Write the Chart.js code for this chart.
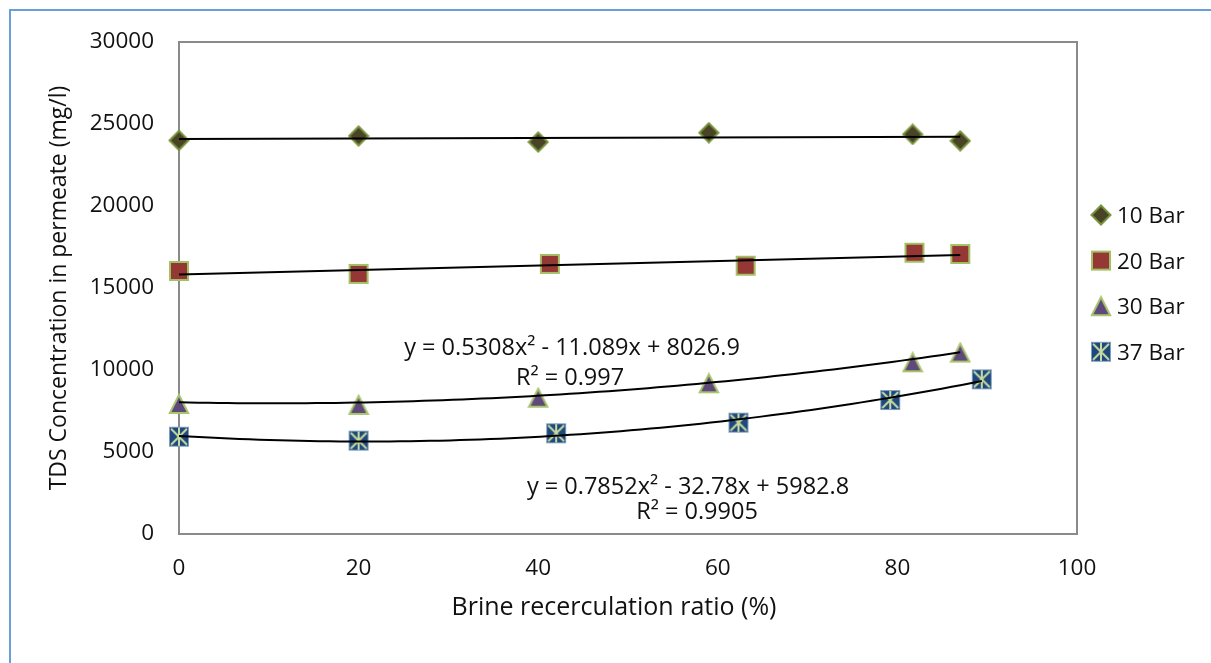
<!DOCTYPE html>
<html>
<head>
<meta charset="utf-8">
<title>TDS in permeate vs brine recirculation</title>
<script src="https://cdn.jsdelivr.net/npm/chart.js@4.4.1/dist/chart.umd.min.js"></script>
<style>
  html, body { margin: 0; padding: 0; background: #ffffff; }
  #wrap { width: 1211px; height: 663px; position: relative; }
</style>
</head>
<body>
<div id="wrap"><canvas id="chart" width="1211" height="663"></canvas></div>
<script>
// Brine recirculation ratio (%) and TDS in permeate (mg/l) for each feed pressure
const seriesNames = ['10 Bar', '20 Bar', '30 Bar', '37 Bar'];

const ratio10 = [0, 20, 40, 59, 81.7, 87];
const tds10   = [24000, 24270, 23900, 24470, 24370, 23970];

const ratio20 = [0, 20, 41.3, 63.1, 81.9, 87];
const tds20   = [16040, 15860, 16470, 16360, 17150, 17070];

const ratio30 = [0, 20, 40, 59, 81.7, 87];
const tds30   = [7930, 7870, 8310, 9190, 10470, 11060];

const ratio37 = [0, 20, 42, 62.3, 79.2, 89.4];
const tds37   = [5930, 5690, 6140, 6790, 8170, 9430];

// Second-order trendline coefficients [a, b, c] for y = a x^2 + b x + c, with R²
const fit30 = [0.5308, -11.089, 8026.9];
const r2Fit30 = '0.997';
const fit37 = [0.7852, -32.78, 5982.8];
const r2Fit37 = '0.9905';

// Axis ticks and titles
const xTicks = [0, 20, 40, 60, 80, 100];
const yTicks = [0, 5000, 10000, 15000, 20000, 25000, 30000];
const xTitle = 'Brine recerculation ratio (%)';
const yTitle = 'TDS Concentration in permeate (mg/l)';

const FONT = '"Open Sans", Lato, sans-serif';
const FS = 22.5;
const FS_EQ = 23.5;
const FS_XTITLE = 25;
const TXT = '#111111';

// ---------- marker images ----------
function markerCanvas(kind) {
  const c = document.createElement('canvas');
  c.width = 22; c.height = 22;
  const g = c.getContext('2d');
  g.lineJoin = 'miter';
  if (kind === 'diamond') {
    g.beginPath();
    g.moveTo(11, 1.5); g.lineTo(20.5, 11); g.lineTo(11, 20.5); g.lineTo(1.5, 11); g.closePath();
    g.fillStyle = '#4A4427'; g.fill();
    g.lineWidth = 2; g.strokeStyle = '#77933C'; g.stroke();
  } else if (kind === 'square') {
    g.fillStyle = '#953735';
    g.fillRect(2, 2, 18, 18);
    g.lineWidth = 2; g.strokeStyle = '#A3C065';
    g.strokeRect(2, 2, 18, 18);
  } else if (kind === 'triangle') {
    g.beginPath();
    g.moveTo(11, 2); g.lineTo(20.2, 20); g.lineTo(1.8, 20); g.closePath();
    g.fillStyle = '#5F497A'; g.fill();
    g.lineWidth = 2; g.strokeStyle = '#A9C46E'; g.stroke();
  } else {
    g.fillStyle = '#1F497D';
    g.fillRect(1, 1, 20, 20);
    g.lineWidth = 1; g.strokeStyle = '#7F9DC0';
    g.strokeRect(1.5, 1.5, 19, 19);
    g.strokeStyle = '#C7DBA0'; g.lineWidth = 2;
    g.beginPath();
    g.moveTo(3, 3); g.lineTo(19, 19);
    g.moveTo(19, 3); g.lineTo(3, 19);
    g.moveTo(11, 2); g.lineTo(11, 20);
    g.stroke();
  }
  return c;
}
const markers = [markerCanvas('diamond'), markerCanvas('square'), markerCanvas('triangle'), markerCanvas('star')];

// ---------- trendlines ----------
function pairs(xs, ys) { return xs.map((x, i) => ({ x: x, y: ys[i] })); }

function linearFit(xs, ys) {
  const n = xs.length;
  const mx = xs.reduce((s, v) => s + v, 0) / n;
  const my = ys.reduce((s, v) => s + v, 0) / n;
  let sxy = 0, sxx = 0;
  for (let i = 0; i < n; i++) { sxy += (xs[i] - mx) * (ys[i] - my); sxx += (xs[i] - mx) * (xs[i] - mx); }
  const slope = sxy / sxx;
  return [slope, my - slope * mx];
}
function linearLine(xs, ys) {
  const [m, b] = linearFit(xs, ys);
  const x0 = Math.min(...xs), x1 = Math.max(...xs);
  return [{ x: x0, y: m * x0 + b }, { x: x1, y: m * x1 + b }];
}
function quadLine(coef, xs) {
  const [a, b, c] = coef;
  const x0 = Math.min(...xs), x1 = Math.max(...xs);
  const pts = [];
  const steps = 80;
  for (let i = 0; i <= steps; i++) {
    const x = x0 + (x1 - x0) * i / steps;
    pts.push({ x: x, y: a * x * x + b * x + c });
  }
  return pts;
}
function fmtEq(coef) {
  const [a, b, c] = coef;
  const sb = b < 0 ? ' - ' : ' + ';
  const sc = c < 0 ? ' - ' : ' + ';
  return 'y = ' + a + 'x\u00B2' + sb + Math.abs(b) + 'x' + sc + Math.abs(c);
}

const markerSets = [
  [ratio10, tds10], [ratio20, tds20], [ratio30, tds30], [ratio37, tds37]
].map((s, i) => ({
  label: seriesNames[i],
  data: pairs(s[0], s[1]),
  pointStyle: markers[i],
  pointRadius: 10,
  pointHoverRadius: 10,
  showLine: false,
  clip: false,
  order: 2
}));

const trendStyle = {
  showLine: true, borderColor: '#000000', borderWidth: 2, pointRadius: 0,
  pointHoverRadius: 0, tension: 0, fill: false, order: 1, clip: false
};
const trendSets = [
  Object.assign({ label: 'trend 10', data: linearLine(ratio10, tds10) }, trendStyle),
  Object.assign({ label: 'trend 20', data: linearLine(ratio20, tds20) }, trendStyle),
  Object.assign({ label: 'trend 30', data: quadLine(fit30, ratio30) }, trendStyle),
  Object.assign({ label: 'trend 37', data: quadLine(fit37, ratio37) }, trendStyle)
];

// ---------- frame, legend, x title and equation labels ----------
const decorations = {
  id: 'decorations',
  beforeDraw(chart) {
    const ctx = chart.ctx;
    ctx.save();
    ctx.fillStyle = '#ffffff';
    ctx.fillRect(0, 0, chart.width, chart.height);
    ctx.strokeStyle = '#6A9FDB';
    ctx.lineWidth = 2;
    ctx.strokeRect(10, 10, chart.width + 20, chart.height + 20);
    ctx.restore();
  },
  beforeDatasetsDraw(chart) {
    const a = chart.chartArea;
    const ctx = chart.ctx;
    ctx.save();
    ctx.strokeStyle = '#8A8A8A';
    ctx.lineWidth = 2;
    ctx.strokeRect(a.left, a.top, a.right - a.left, a.bottom - a.top);
    ctx.restore();
  },
  afterDraw(chart) {
    const ctx = chart.ctx;
    ctx.save();
    // legend
    ctx.font = FS + 'px ' + FONT;
    ctx.fillStyle = TXT;
    ctx.textAlign = 'left';
    ctx.textBaseline = 'alphabetic';
    markerSets.forEach((ds, i) => {
      const y = 215 + i * 45.6;
      const img = markers[i];
      ctx.drawImage(img, 1101 - img.width / 2, y - img.height / 2);
      ctx.fillText(ds.label, 1117, y + 8.2);
    });
    // x axis title
    ctx.textAlign = 'center';
    ctx.font = FS_XTITLE + 'px ' + FONT;
    ctx.fillText(xTitle, 614, 615);
    // trendline equations
    ctx.font = FS_EQ + 'px ' + FONT;
    const eq = [
      [fmtEq(fit30), 572, 346], ['R\u00B2 = ' + r2Fit30, 570, 376],
      [fmtEq(fit37), 688, 485], ['R\u00B2 = ' + r2Fit37, 697, 510]
    ];
    eq.forEach(([t, x, yc]) => ctx.fillText(t, x, yc + 8.5));
    ctx.restore();
  }
};

const ctx = document.getElementById('chart').getContext('2d');
new Chart(ctx, {
  type: 'scatter',
  data: { datasets: markerSets.concat(trendSets) },
  options: {
    responsive: false,
    animation: false,
    events: [],
    layout: { padding: { left: 0, top: 42, right: 134, bottom: 0 } },
    plugins: { legend: { display: false }, tooltip: { enabled: false } },
    scales: {
      x: {
        type: 'linear', min: xTicks[0], max: xTicks[xTicks.length - 1],
        afterBuildTicks(scale) { scale.ticks = xTicks.map(v => ({ value: v })); },
        afterFit(scale) { scale.height = 129; },
        grid: { display: false, drawTicks: false },
        border: { display: false },
        ticks: { color: TXT, font: { family: FONT, size: FS }, padding: 21, maxRotation: 0,
                 callback: v => String(v) },
        title: { display: false }
      },
      y: {
        type: 'linear', min: yTicks[0], max: yTicks[yTicks.length - 1],
        afterBuildTicks(scale) { scale.ticks = yTicks.map(v => ({ value: v })); },
        afterFit(scale) { scale.width = 179; },
        grid: { display: false, drawTicks: false },
        border: { display: false },
        ticks: { color: TXT, font: { family: FONT, size: FS }, padding: 25,
                 callback: v => String(v) },
        title: {
          display: true, text: yTitle, color: TXT,
          font: { family: FONT, size: 23 }, padding: { top: 46, bottom: 0 }
        }
      }
    }
  },
  plugins: [decorations]
});
</script>
</body>
</html>
